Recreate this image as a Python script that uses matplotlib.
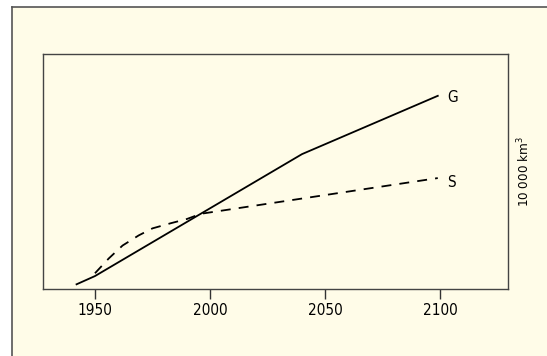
import matplotlib
matplotlib.use("Agg")
import matplotlib.pyplot as plt
from matplotlib.patches import Rectangle
from matplotlib.lines import Line2D

# data (values in units of 10 000 km3)
g_years = [1942, 1950, 2040, 2099]
g_vals = [0.2, 0.55, 5.74, 8.22]

s_years = [1950, 1956, 1962, 1969, 1975, 1983, 1990, 1996, 2099]
s_vals = [0.67, 1.3, 1.85, 2.28, 2.58, 2.8, 2.98, 3.2, 4.72]

xticks = [1950, 2000, 2050, 2100]
series_labels = ["G", "S"]
unit_label = "10 000 km$^3$"

BG = "#FFFCE8"
EDGE = "#555555"

plt.rcParams["font.family"] = ["DejaVu Sans"]
plt.rcParams["font.stretch"] = "condensed"
plt.rcParams["mathtext.fontset"] = "custom"
plt.rcParams["mathtext.rm"] = "DejaVu Sans:stretch=condensed"


def main():
    fig = plt.figure(figsize=(5.47, 3.56), dpi=100, facecolor="white")

    # outer panel: fill plus only left and top edges (others run off the image)
    W, H = 547, 356
    x0, y0 = 11.7 / W, 1 - 7.3 / H
    fig.patches.append(Rectangle((x0, 0), 1 - x0, y0, transform=fig.transFigure,
                                 facecolor=BG, edgecolor="none", zorder=-10))
    fig.lines.append(Line2D([x0, x0], [0, y0], transform=fig.transFigure,
                            color=EDGE, lw=1.2, zorder=-9))
    fig.lines.append(Line2D([x0, 1], [y0, y0], transform=fig.transFigure,
                            color=EDGE, lw=1.2, zorder=-9))

    ax = fig.add_axes([42.5 / W, 1 - 289 / H, (507.5 - 42.5) / W, (289 - 54) / H])
    ax.set_zorder(5)
    ax.set_facecolor(BG)

    ax.plot(g_years, g_vals, color="black", lw=1.3, solid_joinstyle="round")
    ax.plot(s_years, s_vals, color="black", lw=1.3, dashes=(5.5, 4.5))

    ax.text(2103, 8.17, series_labels[0], va="center", ha="left", fontsize=11)
    ax.text(2103, 4.55, series_labels[1], va="center", ha="left", fontsize=11)

    ax.set_xlim(1927.2, 2129.3)
    ax.set_ylim(0, 10)
    ax.set_xticks(xticks)
    ax.set_xticklabels([str(t) for t in xticks], fontsize=11)
    ax.set_yticks([])
    ax.tick_params(axis="x", direction="out", length=7, width=1.0,
                   color="#333333", pad=3)

    for sp in ax.spines.values():
        sp.set_color("#444444")
        sp.set_linewidth(1.0)

    ax.yaxis.set_label_position("right")
    ax.set_ylabel(unit_label, fontsize=9.5, labelpad=6)

    fig.savefig("out.png", dpi=100, facecolor="white")
    plt.close(fig)


if __name__ == "__main__":
    main()
